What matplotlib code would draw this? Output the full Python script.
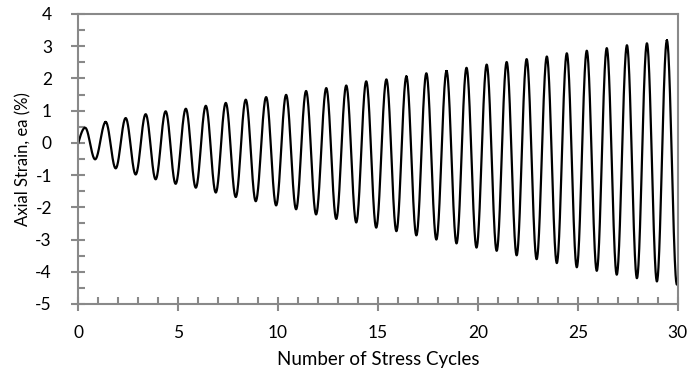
import numpy as np
import matplotlib
matplotlib.use("Agg")
import matplotlib.pyplot as plt
from matplotlib.ticker import MultipleLocator

# peaks / troughs of each stress cycle
cycle = np.arange(1, 31)
peak_x = [0.34, 1.37, 2.37, 3.37, 4.37, 5.38, 6.38, 7.38, 8.38, 9.40,
          10.40, 11.40, 12.41, 13.41, 14.41, 15.42, 16.42, 17.42, 18.43, 19.43,
          20.44, 21.44, 22.44, 23.45, 24.45, 25.45, 26.45, 27.46, 28.46, 29.46]
peak_y = [0.47, 0.65, 0.77, 0.89, 0.98, 1.06, 1.15, 1.24, 1.34, 1.42,
          1.49, 1.61, 1.70, 1.78, 1.91, 1.97, 2.06, 2.16, 2.23, 2.33,
          2.43, 2.51, 2.60, 2.68, 2.78, 2.86, 2.94, 3.03, 3.09, 3.18]
trough_x = [0.84, 1.87, 2.87, 3.87, 4.87, 5.88, 6.88, 7.88, 8.88, 9.90,
            10.90, 11.90, 12.91, 13.91, 14.91, 15.92, 16.92, 17.92, 18.93, 19.93,
            20.94, 21.94, 22.94, 23.95, 24.95, 25.95, 26.95, 27.96, 28.96, 29.96]
trough_y = [-0.51, -0.79, -0.98, -1.13, -1.27, -1.39, -1.54, -1.68, -1.81, -1.94,
            -2.06, -2.22, -2.36, -2.47, -2.63, -2.74, -2.87, -3.00, -3.12, -3.25,
            -3.35, -3.49, -3.61, -3.73, -3.86, -3.97, -4.09, -4.20, -4.30, -4.40]
start = (0.0, 0.0)
end = (30.0, -4.36)

# chain of turning points, joined by half-cosine arcs
px = [start[0]]
py = [start[1]]
for i in range(len(cycle)):
    px += [peak_x[i], trough_x[i]]
    py += [peak_y[i], trough_y[i]]
px.append(end[0])
py.append(end[1])

xs, ys = [], []
for i in range(len(px) - 1):
    t = np.linspace(0, 1, 40)
    w = (1 - np.cos(np.pi * t)) / 2
    if i == 0:
        w = np.sin(np.pi * t / 2)
    if i == len(px) - 2:
        w = 1 - np.cos(np.pi * t / 2)
    xs.append(px[i] + (px[i + 1] - px[i]) * t)
    ys.append(py[i] + (py[i + 1] - py[i]) * w)
xs = np.concatenate(xs)
ys = np.concatenate(ys)

plt.rcParams['font.family'] = ['Lato', 'DejaVu Sans']
plt.rcParams['axes.unicode_minus'] = False
grey = '#898989'

fig = plt.figure(figsize=(6.92, 3.72), dpi=100)
ax = fig.add_axes([0.1132, 0.1828, 0.8661, 0.7796])
ax.plot(xs, ys, color='black', linewidth=1.6)

ax.set_xlim(0, 30)
ax.set_ylim(-5, 4)
ax.xaxis.set_major_locator(MultipleLocator(5))
ax.xaxis.set_minor_locator(MultipleLocator(1))
ax.yaxis.set_major_locator(MultipleLocator(1))
ax.yaxis.set_minor_locator(MultipleLocator(0.5))
ax.tick_params(which='major', direction='inout', length=10, width=1.5,
               color=grey, labelsize=12.5)
ax.tick_params(which='minor', direction='in', length=5, width=1.5, color=grey)
ax.tick_params(axis='x', pad=10)
ax.tick_params(axis='y', pad=14)
for s in ax.spines.values():
    s.set_color(grey)
    s.set_linewidth(1.5)

ax.set_xlabel('Number of Stress Cycles', fontsize=13.5, labelpad=7)
ax.set_ylabel('Axial Strain, ea (%)', fontsize=12, labelpad=3)

fig.savefig('out.png', dpi=100)
